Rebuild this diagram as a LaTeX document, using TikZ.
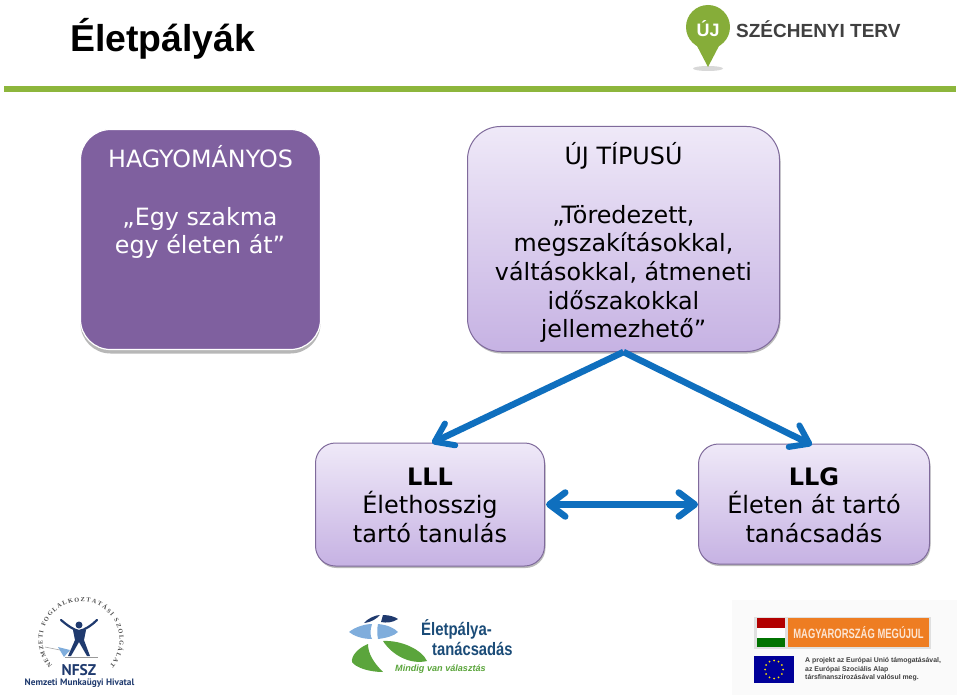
\documentclass[tikz,border=0pt]{standalone}
\usepackage{fontspec}
\setmainfont{DejaVu Sans}
\newfontfamily\arialf{Liberation Sans}
\newfontfamily\ptf{PT Sans}
\newfontfamily\timesf{Liberation Serif}
\usetikzlibrary{arrows.meta,shadows,decorations.text}
\definecolor{barg}{HTML}{8DB63C}
\definecolor{boxtop}{HTML}{EFE9F8}
\definecolor{boxbot}{HTML}{C6B2E3}
\definecolor{boxedge}{HTML}{7F6A9B}
\definecolor{darkbox}{HTML}{7F609F}
\definecolor{arrowb}{HTML}{0F6FBE}
\definecolor{nfszb}{HTML}{1F3A6E}
\definecolor{epblue}{HTML}{1B4C78}
\definecolor{ltb}{HTML}{7FADDC}
\definecolor{ltg}{HTML}{5BA53C}
\definecolor{orng}{HTML}{EE7D22}
\tikzset{
 x=1pt,y=-1pt,
 softbox/.style={draw=boxedge,line width=1pt,top color=boxtop,bottom color=boxbot,align=center,text=black,inner sep=0pt,
   drop shadow={shadow xshift=1pt,shadow yshift=-2pt,fill=black!45,opacity=.6}},
 darkboxst/.style={draw=white,line width=1.2pt,rounded corners=30pt,fill=darkbox,align=center,text=white,inner sep=0pt,
   drop shadow={shadow xshift=0pt,shadow yshift=-4pt,fill=black!40,opacity=.7}},
 conn/.style={draw=arrowb,line width=6.5pt,-{Straight Barb[length=17pt,width=24pt,line width=6pt,round]}},
 connb/.style={draw=arrowb,line width=6.5pt,{Straight Barb[length=16pt,width=24pt,line width=6.5pt,round]}-{Straight Barb[length=16pt,width=24pt,line width=6.5pt,round]}},
 lab/.style={inner sep=0pt,anchor=center,align=center},
}
\begin{document}
\begin{tikzpicture}
\useasboundingbox (0,0) rectangle (960,695);
\fill[white] (0,0) rectangle (960,695);
% header
\node[lab,anchor=west,font=\arialf\bfseries\fontsize{37.4}{40}\selectfont] (title) at (70,39) {Életpályák};
\fill[barg] (4,86) rectangle (956,92);
% Szechenyi logo
\fill[black!30,opacity=.5] (708,68.5) ellipse (15 and 2.5);
\fill[barg!95!black] (708,27) circle (22);
\fill[barg!95!black] (696,44) -- (708,67) -- (720,44) -- cycle;
\node[lab,font=\arialf\bfseries\fontsize{18}{18}\selectfont,text=white] (uj) at (708,29) {ÚJ};
\node[lab,anchor=west,font=\arialf\bfseries\fontsize{19}{20}\selectfont,text=black!75] (szt) at (736,29) {SZÉCHENYI TERV};
% boxes
\node[darkboxst,minimum width=240pt,minimum height=220pt] (trad) at (200.5,239.5) {};
\node[softbox,rounded corners=33pt,minimum width=312pt,minimum height=225pt] (uj2) at (623.5,239) {};
\node[softbox,rounded corners=20pt,minimum width=229pt,minimum height=123pt] (lll) at (430,504.5) {};
\node[softbox,rounded corners=20pt,minimum width=231pt,minimum height=120pt] (llg) at (814,504) {};
% texts
\node[lab,text=white,font=\fontsize{23.8}{28}\selectfont] (t1) at (200.5,157) {HAGYOMÁNYOS};
\node[lab,text=white,font=\fontsize{23.8}{28}\selectfont] (t2) at (200,233) {„Egy szakma\\egy életen át”};
\node[lab,font=\fontsize{23.8}{28}\selectfont] (t3) at (623.5,156) {ÚJ TÍPUSÚ};
\node[lab,font=\fontsize{23.8}{28.7}\selectfont] (t4) at (623.5,274) {„Töredezett,\\megszakításokkal,\\váltásokkal, átmeneti\\időszakokkal\\jellemezhető”};
\node[lab,font=\fontsize{24}{28.5}\selectfont] (t5) at (430,505) {\textbf{LLL}\\Élethosszig\\tartó tanulás};
\node[lab,font=\fontsize{24}{28.5}\selectfont] (t6) at (814,505) {\textbf{LLG}\\Életen át tartó\\tanácsadás};
% connectors
\coordinate (apex) at (623.5,352);
\coordinate (ll) at (432,443);
\coordinate (lr) at (812,445);
\draw[conn] (apex) -- (ll);
\draw[conn] (apex) -- (lr);
\draw[connb,shorten <=1pt] (lll.east) -- (lll.east -| llg.west);
% NFSZ logo
\path[decorate,decoration={text along path,text align=fit to path,text={|\timesf\bfseries\fontsize{6.2}{7}\selectfont\color{black!70}|NEMZETI FOGLALKOZTATÁSI SZOLGÁLAT}}]
  (52.4,665.8) arc[start angle=138,end angle=402,radius=38.5];
\draw[black!35,line width=.6pt] (45,647) -- (70,652);
\fill[nfszb] (79,625) circle (3.5);
\draw[nfszb,line width=2.2pt,line cap=round] (61,620) .. controls (68,626) and (74,630) .. (79,631) .. controls (85,630) and (92,625) .. (97,620);
\fill[nfszb] (73,630) -- (86,630) -- (84,640) -- (90,656) -- (87,656) -- (79,642) -- (71,656) -- (68,656) -- (75,640) -- cycle;
\fill[ltb] (58,647) -- (70,650) -- (64,657) -- cycle;
\draw[black!40,line width=.6pt] (65,657) -- (98,657);
\node[lab,font=\ptf\fontsize{15.5}{16}\selectfont\bfseries,text=nfszb] (nf4) at (79,670) {NFSZ};
\node[lab,font=\ptf\fontsize{9.3}{11}\selectfont\bfseries,text=nfszb] (nf5) at (79.5,683) {Nemzeti Munkaügyi Hivatal};
% Eletpalya logo
\fill[nfszb] (364,623) .. controls (368,618) and (376,615) .. (380,615) .. controls (376,619) and (372,622) .. (364,623) -- cycle;
\fill[nfszb] (383,615) .. controls (390,615) and (395,617) .. (398,619) .. controls (392,623) and (386,623) .. (381,622) -- cycle;
\fill[ltb] (349,632) .. controls (355,627) and (365,624) .. (372,624) .. controls (370,630) and (370,636) .. (372,639) .. controls (362,639) and (354,636) .. (349,632) -- cycle;
\fill[ltb] (378,624) .. controls (388,625) and (394,628) .. (398,632) .. controls (394,636) and (386,638) .. (378,639) .. controls (377,634) and (377,628) .. (378,624) -- cycle;
\fill[ltg] (368,644) .. controls (358,648) and (351,656) .. (352,662) .. controls (356,668) and (370,672) .. (383,672) .. controls (374,663) and (368,654) .. (368,644) -- cycle;
\fill[ltg] (383,641) .. controls (402,640) and (422,650) .. (427,661) .. controls (410,665) and (392,655) .. (383,641) -- cycle;
\node[lab,anchor=west,text=epblue,font=\arialf\bfseries\fontsize{18}{20}\selectfont] (ep1) at (421,629) {\scalebox{.83}[1]{Életpálya-}};
\node[lab,anchor=west,text=epblue,font=\arialf\bfseries\fontsize{18}{20}\selectfont] (ep2) at (432,648.5) {\scalebox{.82}[1]{tanácsadás}};
\node[lab,anchor=west,font=\arialf\bfseries\itshape\fontsize{9.1}{11}\selectfont,text=ltg] (ep3) at (395,669) {Mindig van választás};
% Magyarorszag
\fill[black!2] (732,600) rectangle (957,695);
\fill[black!12] (754,617) rectangle (931,649);
\fill[red!70!black] (757,618) rectangle (785,628);
\fill[white] (757,628) rectangle (785,638);
\fill[green!45!black] (757,638) rectangle (785,647);
\fill[orng] (788,618) rectangle (929,647);
\node[lab,font=\arialf\bfseries\fontsize{13.5}{14}\selectfont,text=white!80!orng] (mm) at (858.5,633) {\scalebox{.7}[1]{MAGYARORSZÁG MEGÚJUL}};
\fill[blue!60!black] (754,656) rectangle (794,683);
\foreach \a in {0,30,...,330}{\fill[yellow!80!orange] (774,669.5) ++(\a:9) circle (1);}
\node[lab,anchor=west,align=left,font=\arialf\bfseries\fontsize{6.9}{8.5}\selectfont,text=black!75] (eu) at (805,669.5) {A projekt az Európai Unió támogatásával,\\az Európai Szociális Alap\\társfinanszírozásával valósul meg.};
\end{tikzpicture}
\end{document}
